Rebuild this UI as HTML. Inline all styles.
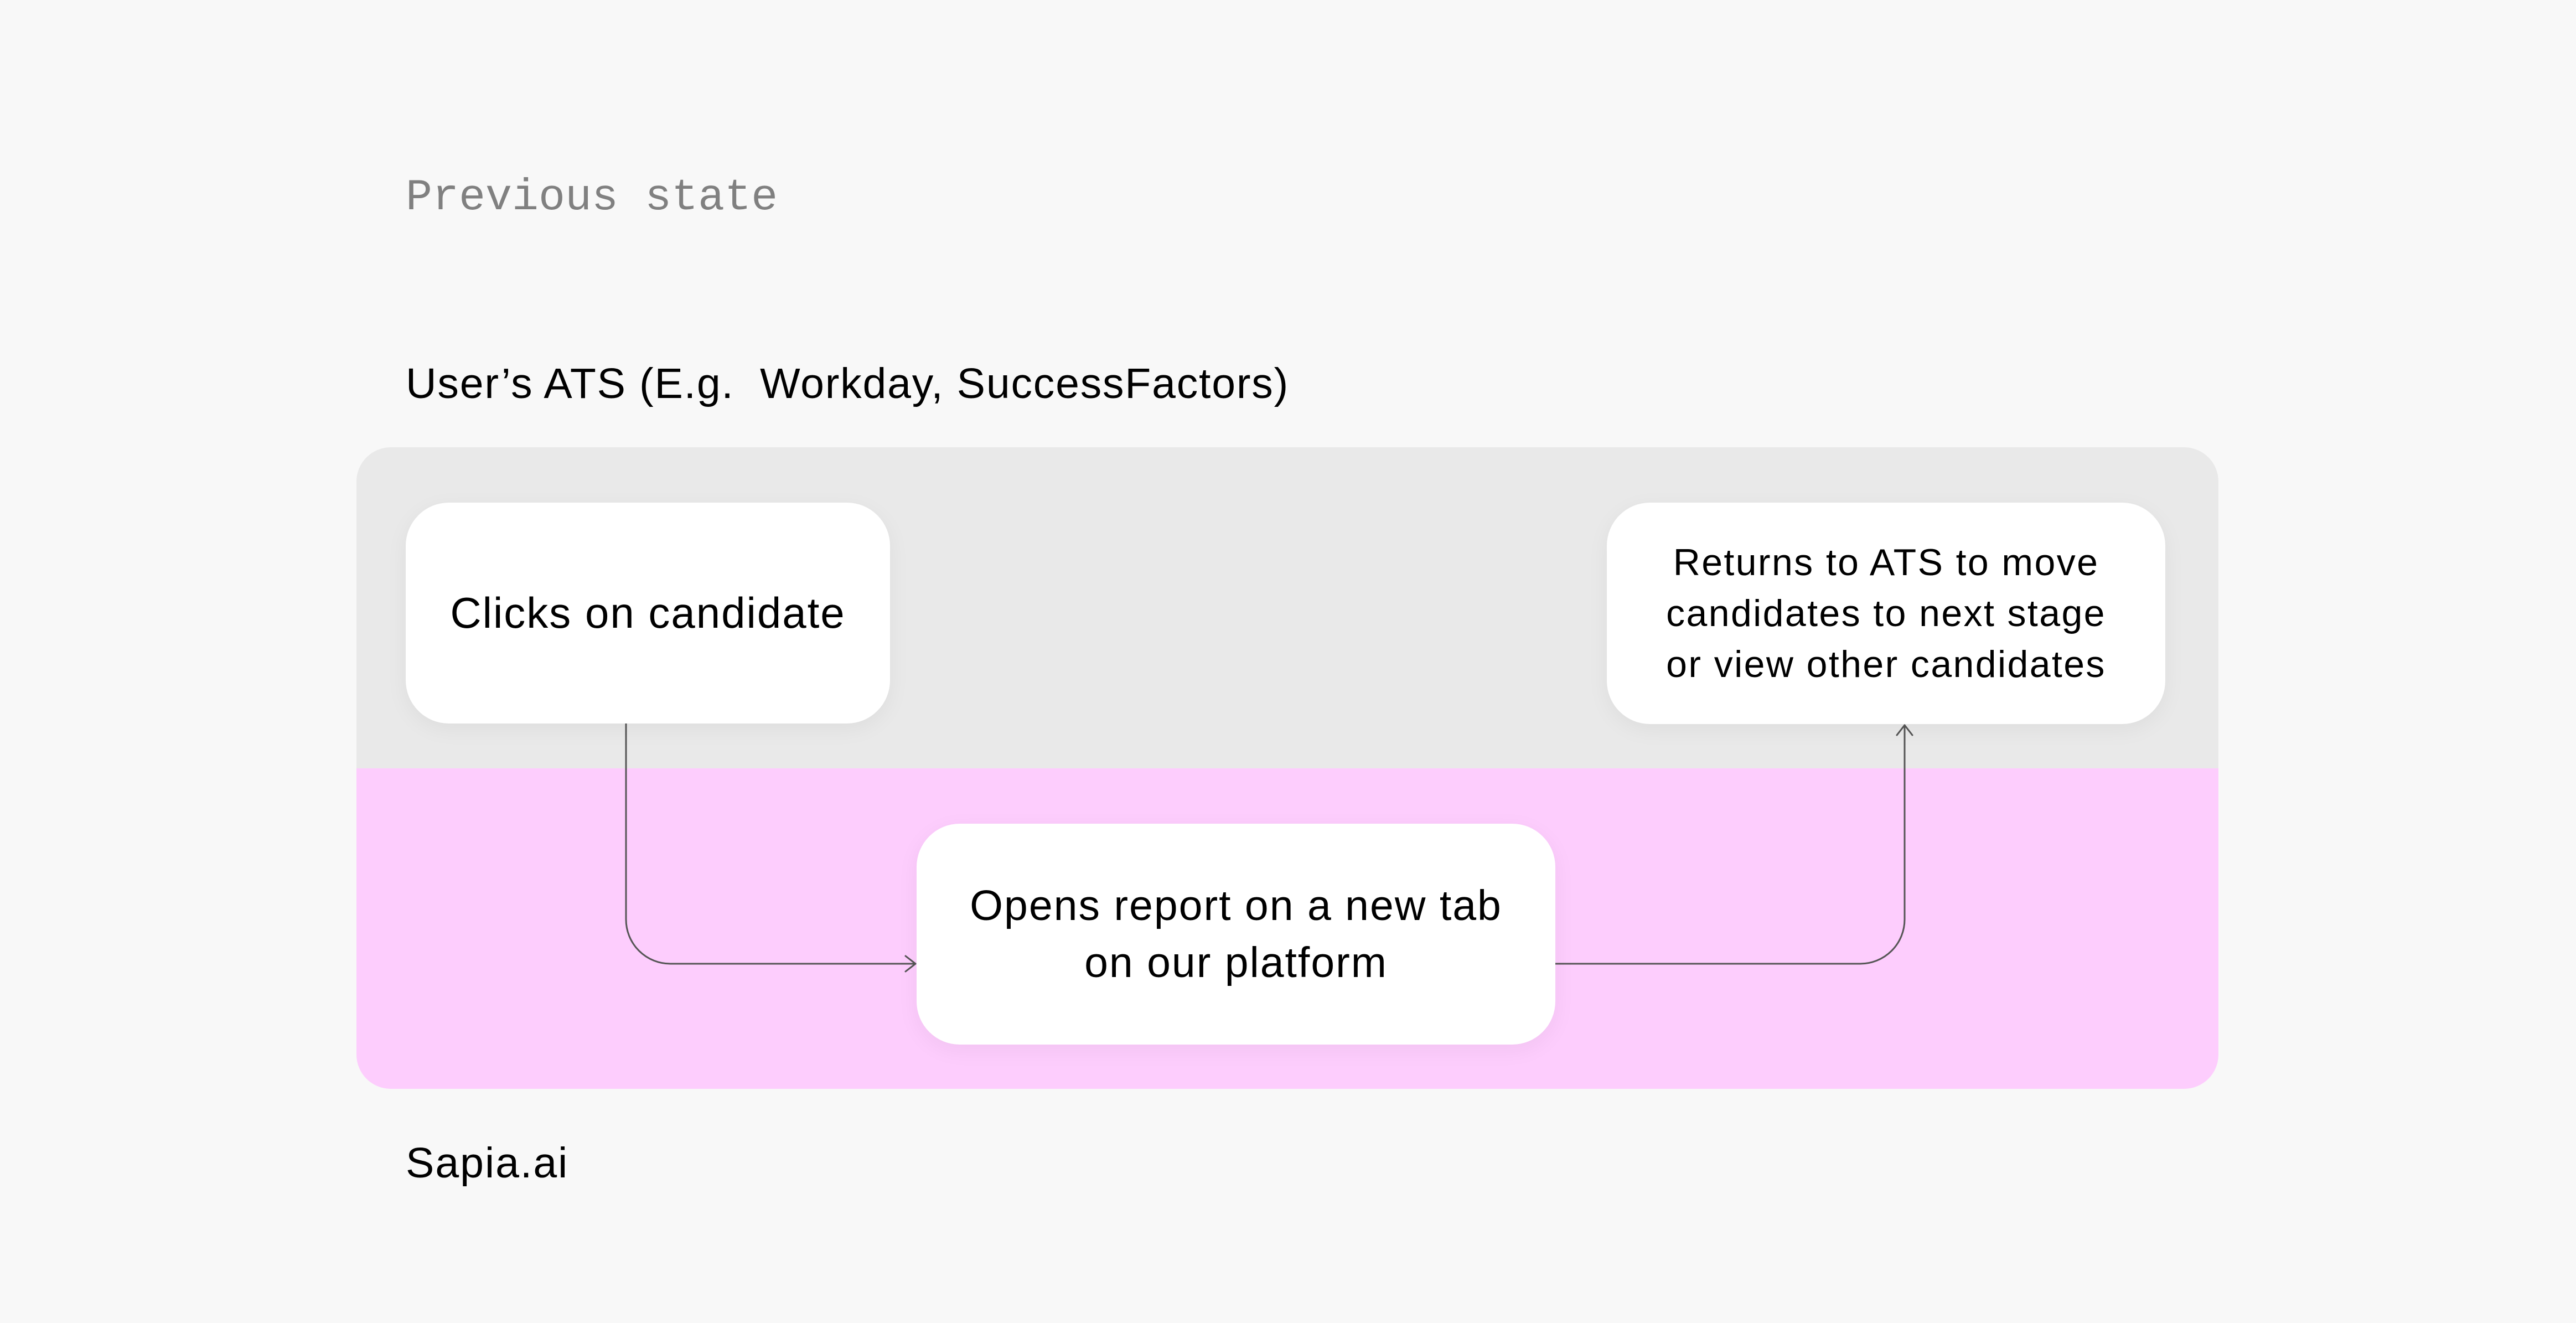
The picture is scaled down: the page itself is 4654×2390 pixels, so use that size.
<!DOCTYPE html>
<html><head><meta charset="utf-8"><style>
html,body{margin:0;padding:0;}
body{width:4654px;height:2390px;background:#f8f8f8;position:relative;overflow:hidden;font-family:"Liberation Sans",sans-serif;color:#000;}
.abs{position:absolute;}
.box{position:absolute;background:#fff;border-radius:78px;display:flex;align-items:center;justify-content:center;text-align:center;box-shadow:0 10px 40px rgba(0,0,0,0.05);}
</style></head><body>
<div class="abs" style="left:733px;top:308px;font-family:'Liberation Mono',monospace;font-size:80px;color:#808080;line-height:100px;">Previous state</div>
<div class="abs" style="left:733px;top:643px;font-size:77px;line-height:100px;letter-spacing:1.8px;">User’s ATS (E.g.&nbsp; Workday, SuccessFactors)</div>
<div class="abs" style="left:644px;top:808px;width:3364px;height:1159px;border-radius:62px;overflow:hidden;">
  <div class="abs" style="left:0;top:0;width:100%;height:580px;background:#e9e9e9;"></div>
  <div class="abs" style="left:0;top:580px;width:100%;height:579px;background:#fdcdfd;"></div>
</div>
<svg class="abs" style="left:0;top:0;" width="4654" height="2390">
  <g fill="none" stroke="#555" stroke-width="3" stroke-linecap="round" stroke-linejoin="round">
    <path d="M1131 1307 V1661 A80 80 0 0 0 1211 1741 H1654"/>
    <path d="M1636 1727 L1654 1741 L1636 1755"/>
    <path d="M2810 1741 H3361 A80 80 0 0 0 3441 1661 V1310"/>
    <path d="M3427 1328 L3441 1310 L3455 1328"/>
  </g>
</svg>
<div class="box" style="left:733px;top:908px;width:875px;height:399px;font-size:78px;letter-spacing:2px;">Clicks on candidate</div>
<div class="box" style="left:2903px;top:908px;width:1009px;height:400px;font-size:68px;line-height:92px;letter-spacing:2.4px;">Returns to ATS to move<br>candidates to next stage<br>or view other candidates</div>
<div class="box" style="left:1656px;top:1488px;width:1154px;height:399px;font-size:77px;line-height:103px;letter-spacing:2px;">Opens report on a new tab<br>on our platform</div>
<div class="abs" style="left:733px;top:2051px;font-size:77px;line-height:100px;letter-spacing:2px;">Sapia.ai</div>
</body></html>
